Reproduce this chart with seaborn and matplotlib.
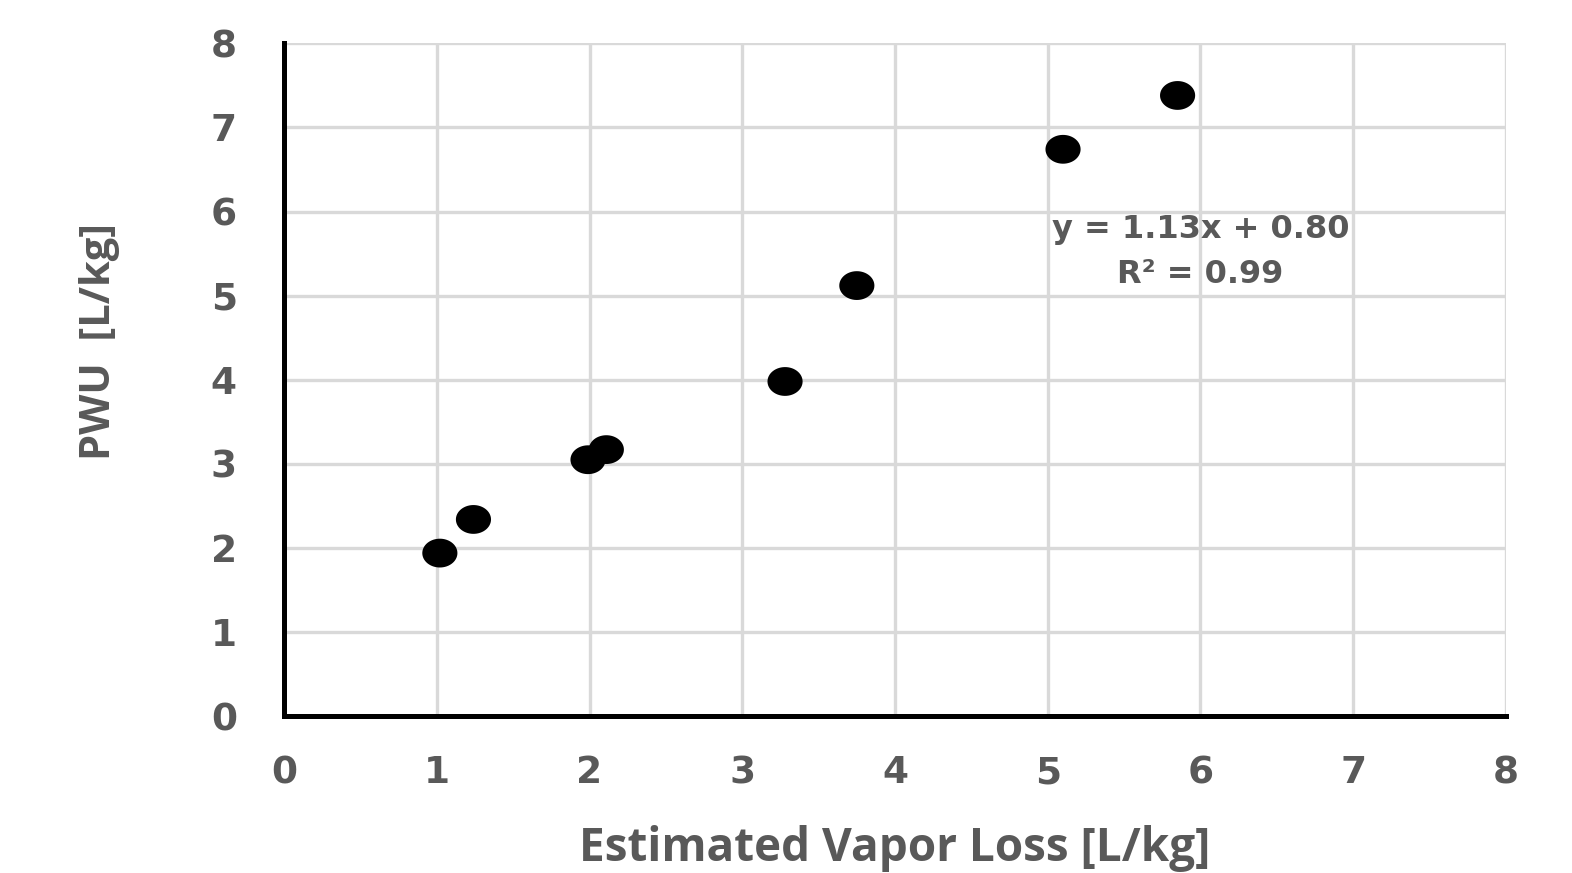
import numpy as np
import pandas as pd
import matplotlib
matplotlib.use("Agg")
import matplotlib.pyplot as plt
import seaborn as sns
from matplotlib.path import Path

# data
vapor_loss = [1.02, 1.24, 1.99, 2.11, 3.28, 3.75, 5.10, 5.85]
pwu = [1.94, 2.34, 3.05, 3.17, 3.98, 5.12, 6.74, 7.38]
ticks = [0, 1, 2, 3, 4, 5, 6, 7, 8]
fit_text = "y = 1.13x + 0.80\nR² = 0.99"

df = pd.DataFrame({"vapor_loss": vapor_loss, "pwu": pwu})

sns.set_theme(style="white")
plt.rcParams['font.family'] = ['DejaVu Sans']

gray = "#595959"

# slightly wide ellipse marker
t = np.linspace(0, 2 * np.pi, 60)
ellipse = Path(np.column_stack([np.cos(t), 0.82 * np.sin(t)]), closed=True)

fig = plt.figure(figsize=(15.72, 8.73), dpi=100)
ax = fig.add_axes([0.1807, 0.1795, 0.7773, 0.7709])

sns.scatterplot(data=df, x="vapor_loss", y="pwu", ax=ax, marker=ellipse,
                s=640, color="black", edgecolor="none", zorder=3)

ax.set_xlim(0, 8)
ax.set_ylim(0, 8)
ax.set_xticks(ticks)
ax.set_yticks(ticks)
ax.grid(True, color="#d9d9d9", linewidth=2.4)
ax.set_axisbelow(True)

for side in ["top", "right"]:
    ax.spines[side].set_visible(False)
for side in ["left", "bottom"]:
    ax.spines[side].set_color("black")
    ax.spines[side].set_linewidth(3.6)

ax.tick_params(axis="both", length=0, labelsize=27, labelcolor=gray)
ax.tick_params(axis="x", pad=28)
ax.tick_params(axis="y", pad=34)
for lbl in ax.get_xticklabels() + ax.get_yticklabels():
    lbl.set_fontweight("bold")

ax.set_xlabel("Estimated Vapor Loss [L/kg]", fontsize=33, fontweight="bold",
              color=gray, family="Open Sans", labelpad=24)
ax.set_ylabel("PWU  [L/kg]", fontsize=30, fontweight="bold",
              color=gray, family="Open Sans")
# label sits a bit above the middle of the axis in the original
ax.yaxis.set_label_coords(-0.134, 0.557)

ax.text(6.0, 5.52, fit_text, ha="center", va="center", fontsize=23,
        fontweight="bold", color=gray, linespacing=1.55)

fig.savefig("out.png", dpi=100)
